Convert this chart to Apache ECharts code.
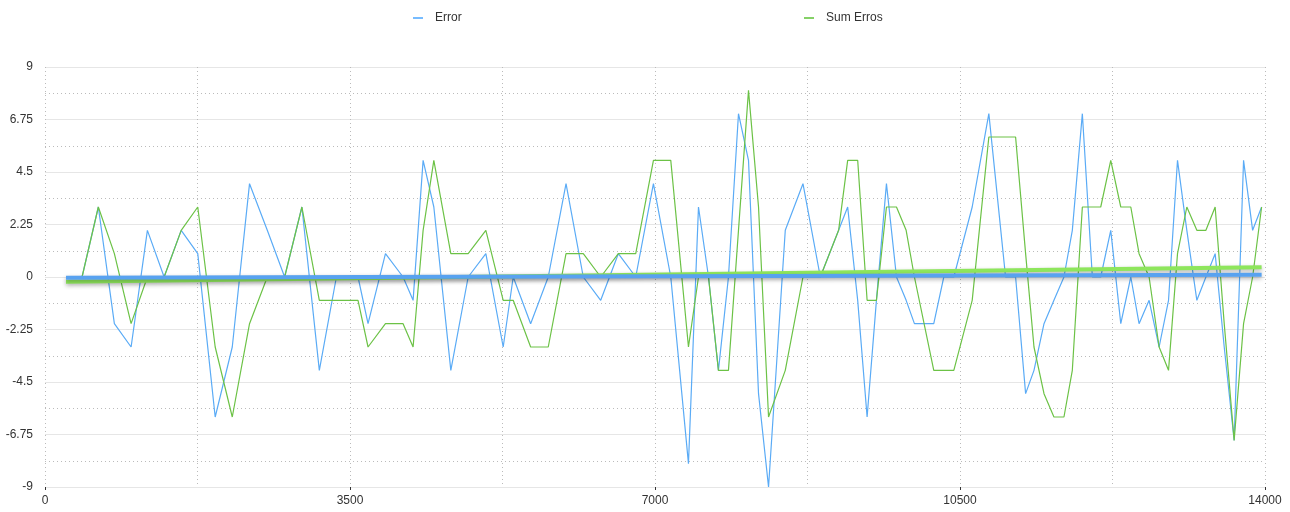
<!DOCTYPE html>
<html>
<head>
<meta charset="utf-8">
<script src="https://cdn.jsdelivr.net/npm/echarts@6/dist/echarts.min.js"></script>
<style>
  html, body { margin: 0; padding: 0; background: #fff; }
  #chart { width: 1290px; height: 512px; }
</style>
</head>
<body>
<div id="chart"></div>
<script>
  // x positions of the samples
  const xValues = [
    241, 425, 612, 796, 988, 1175, 1367, 1563, 1753, 1953,
    2149, 2347, 2551, 2750, 2948, 3148, 3344, 3592, 3707, 3907,
    4109, 4224, 4339, 4462, 4657, 4856, 5059, 5258, 5373, 5573,
    5775, 5979, 6177, 6377, 6579, 6779, 6982, 7181, 7384, 7499,
    7614, 7728, 7843, 7958, 8073, 8188, 8303, 8495, 8698, 8897,
    9107, 9211, 9326, 9434, 9541, 9656, 9771, 9882, 9977, 10199,
    10314, 10429, 10640, 10831, 11023, 11138, 11253, 11349, 11464, 11578,
    11693, 11789, 11904, 12019, 12115, 12230, 12345, 12460, 12555, 12670,
    12785, 12893, 12996, 13103, 13218, 13322, 13428, 13532, 13646, 13754,
    13858, 13961
  ];

  const errorValues = [
    0, 0, 3, -2, -3, 2, 0, 2, 1, -6,
    -3, 4, 2, 0, 3, -4, 0, 0, -2, 1,
    0, -1, 5, 3, -4, 0, 1, -3, 0, -2,
    0, 4, 0, -1, 1, 0, 4, 0, -8, 3,
    0, -4, 0, 7, 5, -5, -9, 2, 4, 0,
    2, 3, -1, -6, -1, 4, 0, -1, -2, -2,
    0, 0, 3, 7, 0, 0, -5, -4, -2, -1,
    0, 2, 7, 0, 0, 2, -2, 0, -2, -1,
    -3, -1, 5, 2, -1, 0, 1, -3, -7, 5,
    2, 3
  ];

  const sumValues = [
    0, 0, 3, 1, -2, 0, 0, 2, 3, -3,
    -6, -2, 0, 0, 3, -1, -1, -1, -3, -2,
    -2, -3, 2, 5, 1, 1, 2, -1, -1, -3,
    -3, 1, 1, 0, 1, 1, 5, 5, -3, 0,
    0, -4, -4, 2, 8, 3, -6, -4, 0, 0,
    2, 5, 5, -1, -1, 3, 3, 2, 0, -4,
    -4, -4, -1, 6, 6, 6, 1, -3, -5, -6,
    -6, -4, 3, 3, 3, 5, 3, 3, 1, 0,
    -3, -4, 1, 3, 2, 2, 3, -2, -7, -2,
    0, 3
  ];

  // linear trend lines (start / end)
  const trendX = [241, 13961];
  const errorTrend = [-0.03, 0.1];
  const sumTrend = [-0.2, 0.42];

  function zip(xs, ys) {
    const out = [];
    for (let i = 0; i < xs.length; i++) {
      out.push([xs[i], ys[i]]);
    }
    return out;
  }

  const chart = echarts.init(document.getElementById('chart'));

  const font = 'Liberation Sans, Arial, sans-serif';
  const legendText = { color: '#333', fontSize: 12, fontFamily: font, padding: [0, 0, 0, 7] };

  chart.setOption({
    backgroundColor: '#fff',
    animation: false,

    legend: [{
      data: ['Error'],
      left: 408,
      top: 7,
      icon: 'rect',
      itemWidth: 10,
      itemHeight: 1.5,
      textStyle: legendText
    }, {
      data: ['Sum Erros'],
      left: 799,
      top: 7,
      icon: 'rect',
      itemWidth: 10,
      itemHeight: 1.5,
      textStyle: legendText
    }],

    grid: {
      left: 45,
      right: 25,
      top: 67,
      bottom: 25
    },

    xAxis: {
      type: 'value',
      min: 0,
      max: 14000,
      interval: 3500,
      axisLine: { show: false, onZero: false },
      axisTick: {
        show: true,
        length: 3,
        lineStyle: { color: '#333' }
      },
      axisLabel: {
        color: '#333',
        fontSize: 12,
        fontFamily: font,
        margin: 8,
        formatter: (v) => String(v)
      },
      splitLine: {
        show: true,
        lineStyle: { color: '#bbb', type: [1, 3] }
      },
      minorTick: { show: false, splitNumber: 2 },
      minorSplitLine: {
        show: true,
        lineStyle: { color: '#bbb', type: [1, 3] }
      }
    },

    yAxis: {
      type: 'value',
      min: -9,
      max: 9,
      interval: 2.25,
      axisLine: { show: false },
      axisTick: { show: false },
      axisLabel: {
        color: '#333',
        fontSize: 12,
        fontFamily: font,
        margin: 12,
        formatter: (v) => String(v)
      },
      splitLine: {
        show: true,
        lineStyle: { color: '#e6e6e6', type: 'solid' }
      },
      minorTick: { show: false, splitNumber: 2 },
      minorSplitLine: {
        show: true,
        lineStyle: { color: '#bbb', type: [1, 3] }
      }
    },

    series: [{
      name: 'Error',
      type: 'line',
      data: zip(xValues, errorValues),
      showSymbol: false,
      color: '#4aa6ff',
      lineStyle: { width: 1.2, color: '#5aabf6' },
      z: 2
    }, {
      name: 'Sum Erros',
      type: 'line',
      data: zip(xValues, sumValues),
      showSymbol: false,
      color: '#5cc234',
      lineStyle: { width: 1.2, color: '#6cc246' },
      z: 2
    }, {
      name: 'Sum Trend',
      type: 'line',
      data: zip(trendX, sumTrend),
      showSymbol: false,
      lineStyle: {
        width: 4,
        color: '#8ee65c',
        shadowColor: 'rgba(0,0,0,0.3)',
        shadowBlur: 4,
        shadowOffsetY: 2
      },
      z: 3
    }, {
      name: 'Error Trend',
      type: 'line',
      data: zip(trendX, errorTrend),
      showSymbol: false,
      lineStyle: {
        width: 4,
        color: '#58a2f0',
        shadowColor: 'rgba(0,0,0,0.3)',
        shadowBlur: 4,
        shadowOffsetY: 2
      },
      z: 4
    }]
  });
</script>
</body>
</html>
